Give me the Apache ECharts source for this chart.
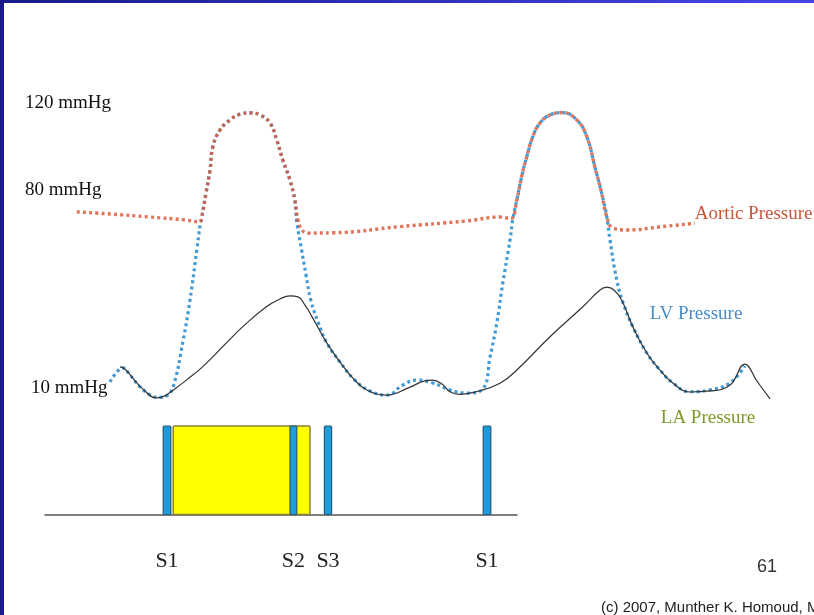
<!DOCTYPE html>
<html>
<head>
<meta charset="utf-8">
<script src="https://cdn.jsdelivr.net/npm/echarts@6/dist/echarts.min.js"></script>
<style>
  html, body { margin: 0; padding: 0; background: #fff; }
  #wrap { position: relative; width: 814px; height: 615px; overflow: hidden; }
  #chart { position: absolute; left: 0; top: 0; width: 814px; height: 615px; }
  #topbar { position: absolute; left: 0; top: 0; width: 814px; height: 3px;
            background: linear-gradient(to right, #1a1a8e, #4646e8); z-index: 2; }
  #leftbar { position: absolute; left: 0; top: 0; width: 4px; height: 615px;
             background: #1a1a8e; z-index: 2; }
</style>
</head>
<body>
<div id="wrap">
  <div id="chart"></div>
  <div id="topbar"></div>
  <div id="leftbar"></div>
</div>
<script>
// ---- time in ms, pressure in mmHg ----
const aorticT = [92, 175, 275, 362, 400, 404, 415, 425, 432, 450, 475, 500, 525, 550, 575, 592, 607, 625, 637, 645, 655, 670, 732, 900, 1067, 1150, 1177, 1192, 1204, 1217, 1232, 1250, 1275, 1307, 1342, 1367, 1387, 1404, 1417, 1432, 1467, 1550, 1637];
const aorticP = [78.0, 77.2, 76.0, 74.9, 74.1, 75.6, 85.3, 94.2, 103.1, 109.7, 113.6, 115.8, 116.3, 115.5, 112.4, 105.8, 98.1, 90.3, 82.6, 74.9, 71.0, 69.8, 69.9, 72.3, 74.5, 76.0, 75.4, 82.6, 91.6, 99.4, 107.1, 112.4, 115.5, 116.4, 113.6, 107.1, 95.5, 85.3, 76.1, 71.8, 71.0, 72.2, 73.6];

const lvT = [175, 192, 207, 225, 250, 282, 300, 317, 333, 358, 375, 392, 401, 404, 415, 425, 432, 450, 475, 500, 525, 550, 575, 592, 607, 625, 637, 642, 654, 665, 677, 695, 717, 750, 787, 825, 867, 907, 942, 982, 1025, 1067, 1107, 1125, 1142, 1157, 1175, 1182, 1192, 1204, 1217, 1232, 1250, 1275, 1307, 1342, 1367, 1387, 1404, 1417, 1425, 1442, 1458, 1482, 1517, 1550, 1582, 1625, 1675, 1725, 1762];
const lvP = [12.2, 16.0, 17.6, 14.9, 10.3, 6.7, 6.2, 6.9, 10.3, 28.4, 43.9, 63.3, 73.7, 75.6, 85.3, 94.2, 103.1, 109.7, 113.6, 115.8, 116.3, 115.5, 112.4, 105.8, 98.1, 90.3, 82.6, 74.1, 63.3, 53.6, 43.9, 35.4, 27.3, 19.9, 12.9, 8.7, 7.1, 11.0, 12.9, 11.8, 9.1, 7.9, 9.5, 21.8, 35.0, 50.5, 67.1, 75.2, 82.6, 91.6, 99.4, 107.1, 112.4, 115.5, 116.4, 113.6, 107.1, 95.5, 85.3, 76.1, 67.1, 51.6, 42.7, 33.6, 23.4, 16.8, 11.8, 8.4, 9.1, 11.8, 18.4];

const laT = [200, 212, 232, 257, 291, 312, 330, 366, 407, 466, 507, 566, 600, 625, 645, 662, 682, 717, 750, 787, 817, 867, 925, 962, 982, 1005, 1025, 1050, 1091, 1150, 1192, 1275, 1357, 1400, 1417, 1435, 1454, 1482, 1517, 1550, 1582, 1625, 1675, 1725, 1762, 1792, 1825];
const laP = [18.0, 17.2, 13.7, 9.5, 6.0, 6.8, 8.7, 12.9, 18.1, 27.3, 33.6, 41.3, 44.3, 45.5, 45.1, 42.0, 36.9, 27.3, 19.9, 12.9, 9.1, 7.1, 10.2, 12.6, 12.9, 11.4, 8.4, 7.4, 8.4, 11.7, 16.8, 29.7, 41.3, 47.8, 48.9, 47.8, 43.9, 33.6, 23.4, 16.8, 11.8, 8.3, 8.7, 11.0, 19.1, 12.6, 5.6];

// pressure tick labels
const yTickValues = [10, 80, 120];
const yTickLabels = ['10 mmHg', '80 mmHg', '120 mmHg'];

// heart sounds (ms)
const soundNames = ['S1', 'S2', 'S3', 'S1'];
const soundStart = [308, 625, 711, 1108];
const soundEnd = [327, 642, 729, 1127];
const systoleStart = 333;
const systoleEnd = 675;

const seriesNames = ['Aortic Pressure', 'LV Pressure', 'LA Pressure'];

const zip = (a, b) => a.map((v, i) => [v, b[i]]);
const soundCenters = soundStart.map((s, i) => (s + soundEnd[i]) / 2);

const chart = echarts.init(document.getElementById('chart'), null, { renderer: 'canvas' });

function rectItem(params, api, fill, stroke, lw) {
  const p1 = api.coord([api.value(0), 1]);
  const p2 = api.coord([api.value(1), 0]);
  return {
    type: 'rect',
    shape: { x: p1[0], y: p1[1], width: p2[0] - p1[0], height: p2[1] - p1[1], r: 1 },
    style: { fill: fill, stroke: stroke, lineWidth: lw }
  };
}

const serif = "'Liberation Serif', 'Times New Roman', serif";
const sans = "'Liberation Sans', Arial, sans-serif";

const option = {
  animation: false,
  backgroundColor: '#ffffff',
  title: [
    { text: '61', left: 757, top: 558, padding: 0, textStyle: { fontFamily: sans, fontSize: 18, fontWeight: 'normal', color: '#333' } },
    { text: '(c) 2007, Munther K. Homoud, M', left: 601, top: 600, padding: 0, textStyle: { fontFamily: sans, fontSize: 15, fontWeight: 'normal', color: '#222' } }
  ],
  grid: [
    { left: 40, right: 0, top: 0, bottom: 0, outerBoundsMode: 'none' },
    { left: 45, width: 472, top: 426, height: 88.5, outerBoundsMode: 'none' }
  ],
  xAxis: [
    { gridIndex: 0, type: 'value', min: 0, max: 1935, show: false },
    {
      gridIndex: 1, type: 'value', min: 12.5, max: 1192.5,
      axisLine: { show: true, lineStyle: { color: '#555', width: 1.5 } },
      axisTick: { show: false }, splitLine: { show: false },
      axisLabel: {
        customValues: soundCenters,
        formatter: v => { const i = soundCenters.indexOf(v); return i >= 0 ? soundNames[i] : ''; },
        margin: 36, fontFamily: serif, fontSize: 22, color: '#222'
      }
    }
  ],
  yAxis: [
    {
      gridIndex: 0, type: 'value', min: -78, max: 160,
      axisLine: { show: false }, axisTick: { show: false }, splitLine: { show: false },
      axisLabel: {
        customValues: yTickValues,
        align: 'left', margin: 15,
        formatter: v => {
          const i = yTickValues.indexOf(v);
          return '{' + ['lo', 'mid', 'hi'][i] + '|' + yTickLabels[i] + '}';
        },
        rich: {
          lo: { fontFamily: serif, fontSize: 19, color: '#111', padding: [0, 0, 0, 6] },
          mid: { fontFamily: serif, fontSize: 19, color: '#111', padding: [0, 0, 34, 0] },
          hi: { fontFamily: serif, fontSize: 19, color: '#111' }
        }
      }
    },
    { gridIndex: 1, type: 'value', min: 0, max: 1, show: false }
  ],
  series: [
    {
      name: seriesNames[1], type: 'line', xAxisIndex: 0, yAxisIndex: 0,
      data: zip(lvT, lvP), smooth: 0.45, symbol: 'none', z: 2,
      lineStyle: { color: '#3f9ad6', width: 3.2, type: [3, 3.2], cap: 'butt' },
      markPoint: {
        symbol: 'circle', symbolSize: 1, itemStyle: { color: 'rgba(0,0,0,0)' },
        label: { show: true, position: 'inside', formatter: seriesNames[1], fontFamily: serif, fontSize: 19, color: '#4a8cc4' },
        data: [{ coord: [1640, 38.5] }]
      }
    },
    {
      name: seriesNames[0], type: 'line', xAxisIndex: 0, yAxisIndex: 0,
      data: zip(aorticT, aorticP), smooth: 0.45, symbol: 'none', z: 3,
      lineStyle: { color: '#dc5a3c', width: 3.4, type: [3, 3.2], cap: 'butt', opacity: 0.85 },
      endLabel: { show: true, formatter: seriesNames[0], offset: [-8, -9], fontFamily: serif, fontSize: 19, color: '#c9553a' }
    },
    {
      name: seriesNames[2], type: 'line', xAxisIndex: 0, yAxisIndex: 0,
      data: zip(laT, laP), smooth: 0.45, symbol: 'none', z: 4,
      lineStyle: { color: '#333', width: 1.2 },
      markPoint: {
        symbol: 'circle', symbolSize: 1, itemStyle: { color: 'rgba(0,0,0,0)' },
        label: { show: true, position: 'inside', formatter: seriesNames[2], fontFamily: serif, fontSize: 19, color: '#7d9a2c' },
        data: [{ coord: [1670, -1.8] }]
      }
    },
    {
      name: 'Systole', type: 'custom', xAxisIndex: 1, yAxisIndex: 1, z: 2,
      encode: { x: [0, 1] },
      data: [[systoleStart, systoleEnd]],
      renderItem: (p, api) => rectItem(p, api, '#ffff00', '#8a8040', 1.5)
    },
    {
      name: 'Heart sounds', type: 'custom', xAxisIndex: 1, yAxisIndex: 1, z: 3,
      encode: { x: [0, 1] },
      data: soundStart.map((s, i) => [s, soundEnd[i]]),
      renderItem: (p, api) => rectItem(p, api, '#1e9bd8', '#24597a', 1.2)
    }
  ]
};
chart.setOption(option);
</script>
</body>
</html>
